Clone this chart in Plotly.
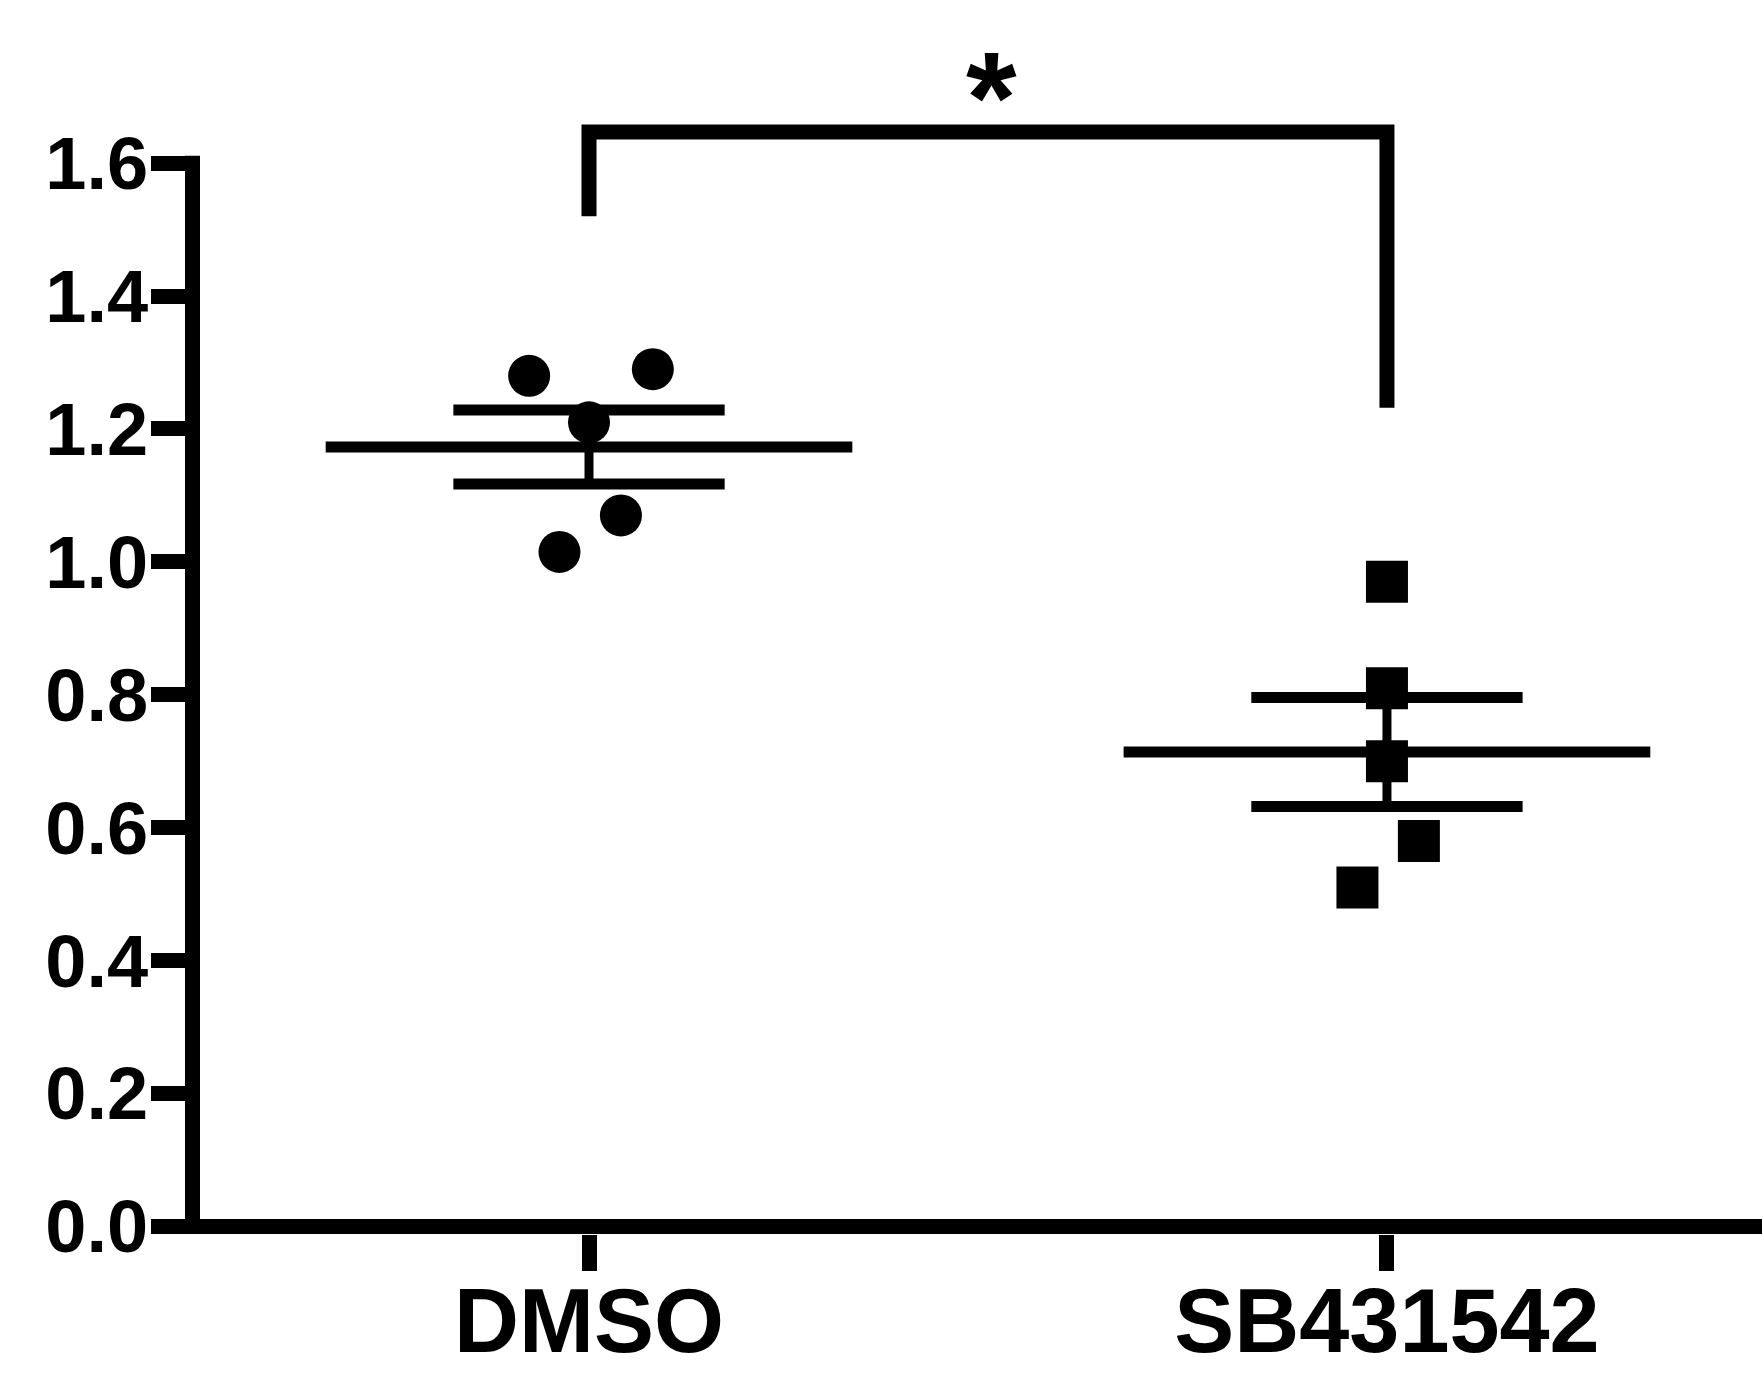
import numpy as np
import plotly.graph_objects as go

# ---- data ----
categories = ["DMSO", "SB431542"]
dmso_values = [1.28, 1.29, 1.21, 1.07, 1.015]
sb_values = [0.97, 0.81, 0.70, 0.58, 0.51]
dmso_jitter = [-0.075, 0.08, 0.0, 0.04, -0.037]
sb_jitter = [0.0, 0.0, 0.0, 0.04, -0.037]
y_tick_vals = [0.0, 0.2, 0.4, 0.6, 0.8, 1.0, 1.2, 1.4, 1.6]
y_tick_text = ["0.0", "0.2", "0.4", "0.6", "0.8", "1.0", "1.2", "1.4", "1.6"]
sig_label = "*"
sig_x = 0.505
bracket_top = 1.647
bracket_left_end = 1.52
bracket_right_end = 1.232

# ---- styling ----
FONT = "Liberation Sans, Arial, sans-serif"
MEAN_HALF = 0.33
SEM_HALF = 0.17
AXIS_W = 15
W, H = 1762, 1378
M_L, M_R, M_T, M_B = 200, 0, 0, 144
X_RANGE = [-0.4875, 1.470]
Y_RANGE = [-0.01129, 1.8455]
plot_w = W - M_L - M_R
plot_h = H - M_T - M_B
y_per_px = (Y_RANGE[1] - Y_RANGE[0]) / plot_h

fig = go.Figure()

groups = [(0, dmso_values, dmso_jitter, "circle"), (1, sb_values, sb_jitter, "square")]
for xc, vals, jit, sym in groups:
    vals = np.array(vals)
    m = vals.mean()
    sem = vals.std(ddof=1) / np.sqrt(len(vals))
    fig.add_trace(go.Scatter(x=[xc - MEAN_HALF, xc + MEAN_HALF], y=[m, m], mode="lines",
                             line=dict(color="black", width=11), hoverinfo="skip"))
    for yy in (m + sem, m - sem):
        fig.add_trace(go.Scatter(x=[xc - SEM_HALF, xc + SEM_HALF], y=[yy, yy], mode="lines",
                                 line=dict(color="black", width=11), hoverinfo="skip"))
    fig.add_trace(go.Scatter(x=[xc, xc], y=[m - sem, m + sem], mode="lines",
                             line=dict(color="black", width=9), hoverinfo="skip"))
    fig.add_trace(go.Scatter(x=[xc + j for j in jit], y=vals, mode="markers",
                             marker=dict(symbol=sym, size=42, color="black", line=dict(width=0)),
                             cliponaxis=False))

# significance bracket
fig.add_trace(go.Scatter(x=[0, 0, 1, 1],
                         y=[bracket_left_end, bracket_top, bracket_top, bracket_right_end],
                         mode="lines", line=dict(color="black", width=15), hoverinfo="skip"))
fig.add_annotation(x=sig_x, y=bracket_top, xref="x", yref="y", text="<b>" + sig_label + "</b>",
                   showarrow=False, yanchor="bottom", yshift=-41,
                   font=dict(family=FONT, size=130, color="black"))

# axis lines as shapes (y axis stops at 1.6)
half_dom = (AXIS_W / 2) / plot_w
fig.add_shape(type="line", xref="x domain", yref="y", x0=-half_dom, x1=-half_dom,
              y0=0, y1=1.6 + (AXIS_W / 2) * y_per_px,
              line=dict(color="black", width=AXIS_W))
fig.add_shape(type="line", xref="x domain", yref="y", x0=-2 * half_dom, x1=1, y0=0, y1=0,
              line=dict(color="black", width=AXIS_W))

fig.update_layout(
    template="none",
    width=W, height=H,
    margin=dict(l=M_L, r=M_R, t=M_T, b=M_B, autoexpand=False),
    paper_bgcolor="white", plot_bgcolor="white",
    showlegend=False,
    xaxis=dict(range=X_RANGE, tickvals=[0, 1], ticktext=categories, automargin=False,
               showgrid=False, zeroline=False, showline=False,
               ticks="outside", ticklen=36, tickwidth=AXIS_W, tickcolor="black",
               tickfont=dict(family=FONT, size=90, color="black", weight="bold"),
               ticklabelstandoff=-27),
    yaxis=dict(range=Y_RANGE, tickvals=y_tick_vals, ticktext=y_tick_text, automargin=False,
               showgrid=False, zeroline=False, showline=False,
               ticks="outside", ticklen=48, tickwidth=AXIS_W, tickcolor="black",
               tickfont=dict(family=FONT, size=74, color="black", weight="bold"),
               ticklabelstandoff=-12),
)

fig.write_html("out.html", config={"displayModeBar": False},
               post_script="document.body.style.margin='0px';")
